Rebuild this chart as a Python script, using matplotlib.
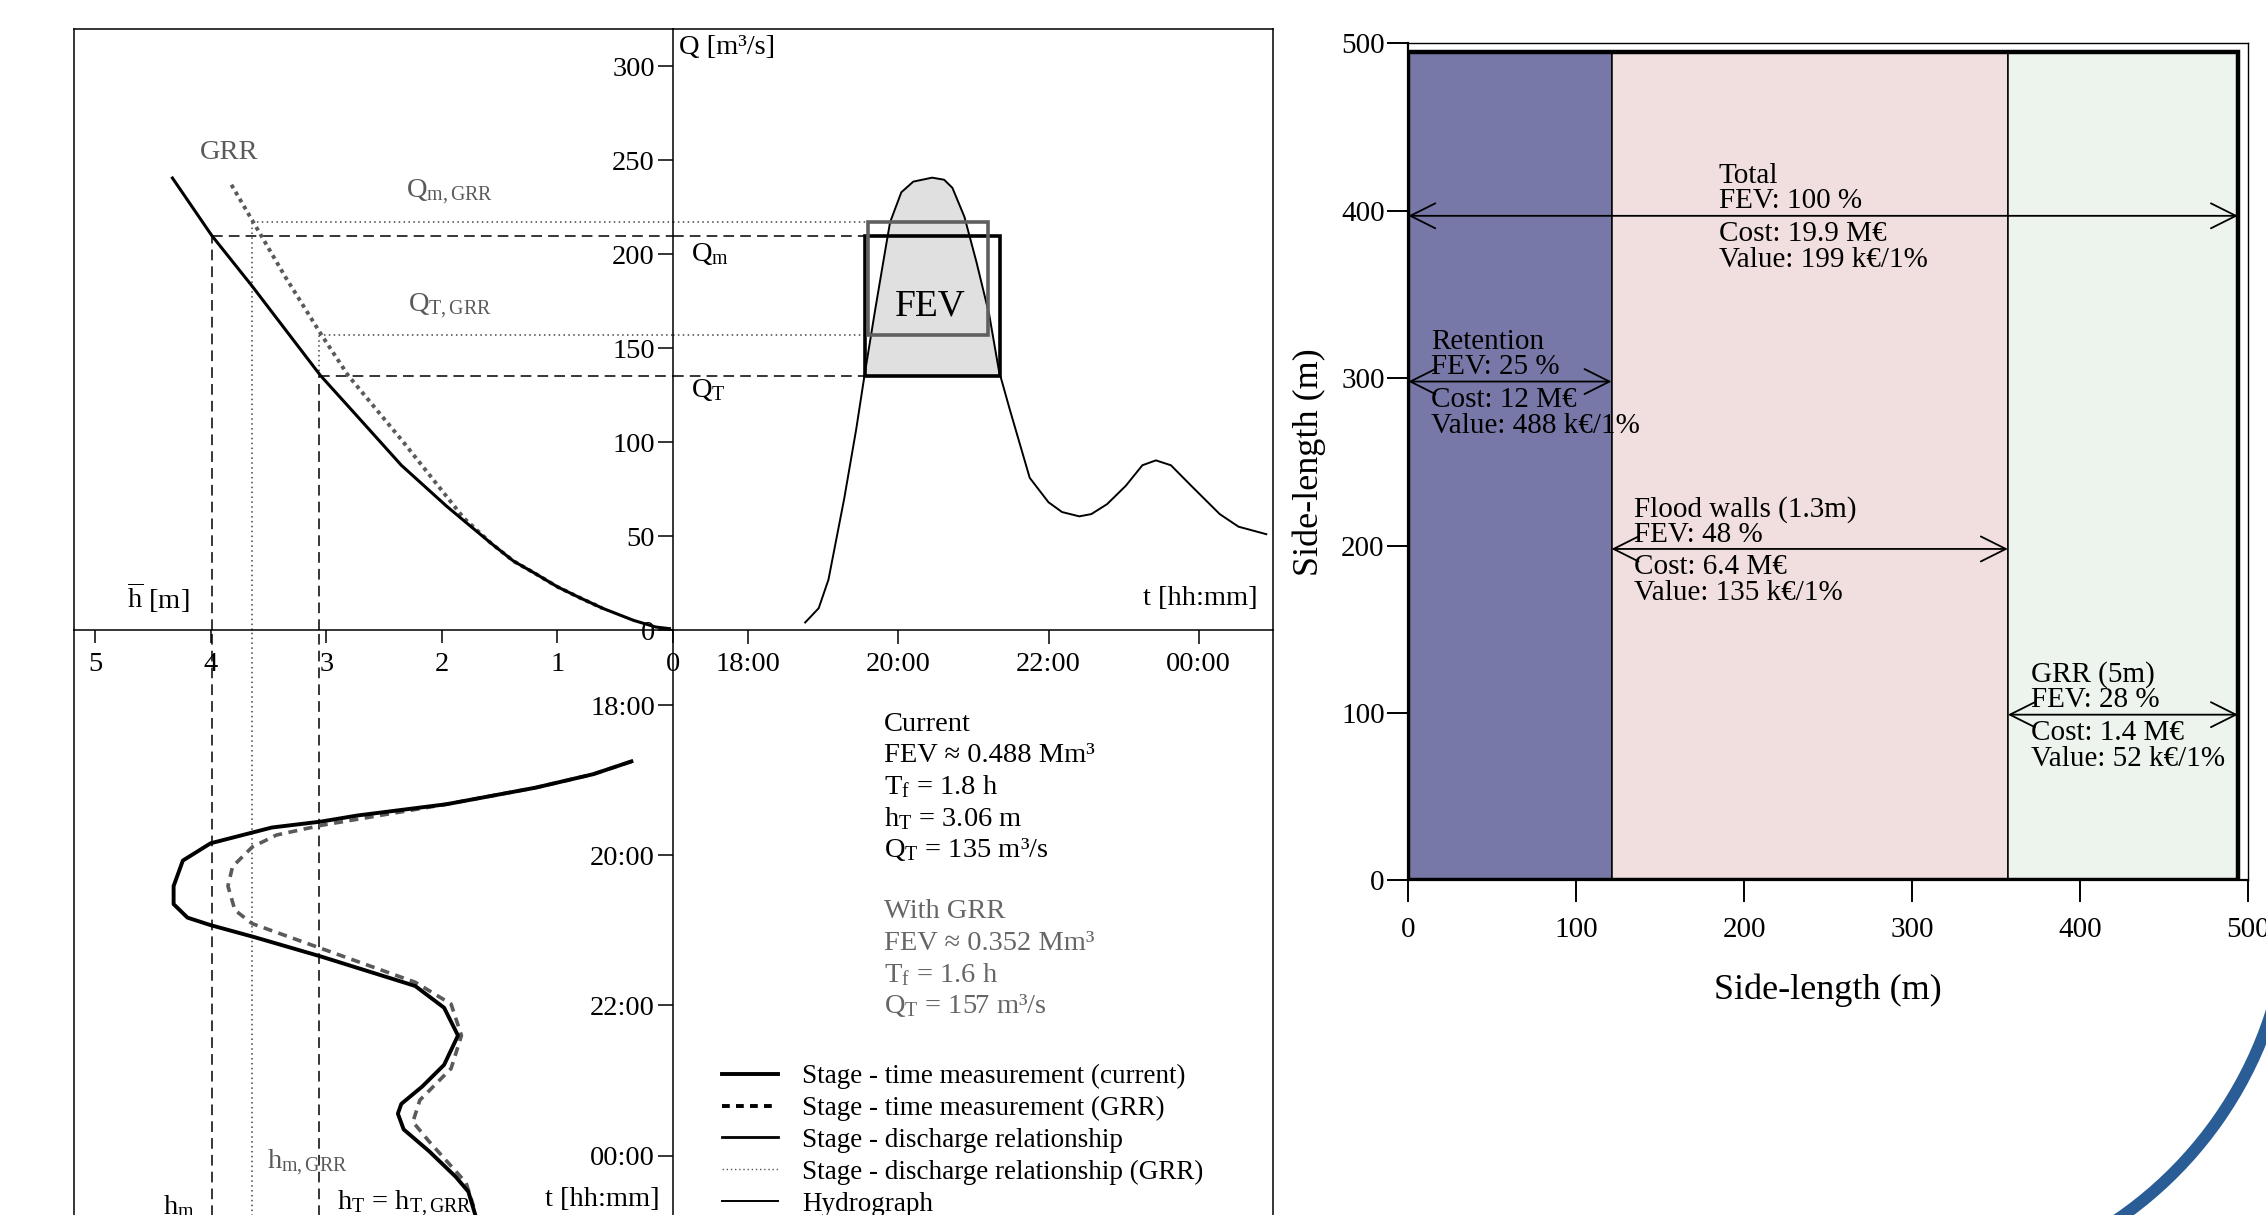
import numpy as np
import matplotlib.pyplot as plt
from matplotlib.patches import Rectangle, Arc
from matplotlib.lines import Line2D
from matplotlib.ticker import FuncFormatter

plt.rcParams['font.family'] = ['Liberation Serif', 'DejaVu Serif']
plt.rcParams['mathtext.fontset'] = 'custom'
plt.rcParams['mathtext.rm'] = 'Liberation Serif'
plt.rcParams['mathtext.it'] = 'Liberation Serif:italic'

# ── Stage - discharge relationship (h [m] -> Q [m3/s]) ──────────
rating_h = [4.33, 3.99, 3.64, 3.05, 2.73, 2.35, 1.96, 1.77, 1.57, 1.38, 1.19, 1.00,
            0.80, 0.61, 0.34, 0.22, 0.15, 0.03]
rating_q = [240.6, 210.0, 183.0, 135.5, 113.7, 87.7, 66.0, 56.2, 46.0, 36.7, 30.0, 23.0,
            17.0, 11.6, 5.1, 2.9, 1.6, 0.7]
rating_grr_h = [3.82, 3.62, 3.35, 3.04, 2.81, 2.34, 1.81, 1.57, 1.38, 1.19, 1.00, 0.80, 0.61]
rating_grr_q = [237.0, 216.0, 187.6, 157.0, 135.5, 100.6, 59.6, 46.0, 36.7, 30.0, 23.0, 17.0, 11.6]

# ── Hydrograph (t in hours after midnight, Q [m3/s]) ────────────
hydro_t = [18.76, 18.94, 19.07, 19.28, 19.44, 19.55, 19.69, 19.82, 19.89, 20.04, 20.20,
           20.45, 20.61, 20.72, 20.88, 21.04, 21.21, 21.34, 21.48, 21.75, 22.00, 22.18,
           22.41, 22.57, 22.78, 23.03, 23.25, 23.43, 23.63, 23.90, 24.28, 24.53, 24.90]
hydro_q = [4.0, 11.6, 26.8, 70.0, 107.0, 135.5, 170.0, 200.7, 217.0, 233.0, 238.7,
           240.8, 239.7, 235.4, 220.0, 196.0, 168.0, 138.0, 118.0, 81.0, 68.0, 62.8,
           60.5, 61.7, 67.0, 76.8, 87.7, 90.3, 87.7, 76.8, 61.7, 55.0, 51.0]

# ── Stage - time measurements (t in hours, h [m]) ───────────────
stage_t = [18.75, 18.92, 19.10, 19.32, 19.47, 19.55, 19.63, 19.84, 20.07, 20.41, 20.65,
           20.83, 20.93, 21.09, 21.35, 21.74, 22.03, 22.40, 22.79, 23.08, 23.31, 23.44,
           23.65, 23.94, 24.28, 24.48, 24.79]
stage_h = [0.36, 0.69, 1.19, 1.96, 2.73, 3.04, 3.47, 4.00, 4.24, 4.32, 4.32,
           4.20, 4.00, 3.62, 3.04, 2.23, 1.98, 1.86, 1.98, 2.17, 2.35, 2.38,
           2.33, 2.11, 1.88, 1.77, 1.71]
stage_grr_t = [18.75, 18.92, 19.10, 19.32, 19.52, 19.60, 19.73, 19.89, 20.15, 20.41, 20.73,
               20.91, 21.22, 21.69, 21.98, 22.40, 22.84, 23.26, 23.55, 23.81, 24.36, 24.75]
stage_grr_h = [0.36, 0.69, 1.19, 1.96, 2.73, 3.04, 3.43, 3.64, 3.81, 3.85, 3.79,
               3.64, 3.08, 2.23, 1.92, 1.83, 1.92, 2.19, 2.25, 2.11, 1.79, 1.71]

# ── Thresholds ──────────────────────────────────────────────────
q_m, q_t = 210, 135
q_m_grr, q_t_grr = 217, 157
h_m, h_t, h_m_grr = 3.99, 3.06, 3.64
t_start, t_f = 19.55, 1.8
t_start_grr, t_f_grr = 19.60, 1.6

current_lines = ['Current', 'FEV ≈ 0.488 Mm³', r'$\mathrm{T_f}$ = 1.8 h',
                 r'$\mathrm{h_T}$ = 3.06 m', r'$\mathrm{Q_T}$ = 135 m³/s']
grr_lines = ['With GRR', 'FEV ≈ 0.352 Mm³', r'$\mathrm{T_f}$ = 1.6 h',
             r'$\mathrm{Q_T}$ = 157 m³/s']

# ── Side-length chart ───────────────────────────────────────────
measures = ['Retention', 'Flood walls (1.3m)', 'GRR (5m)']
seg_edges = [0, 121, 357, 494]
seg_colors = ['#7878a8', '#f1dfdf', '#edf4ed']
fev_pct = [25, 48, 28]
cost_meur = [12, 6.4, 1.4]
value_keur = [488, 135, 52]
arrow_y = [298, 198, 99]
total_fev, total_cost, total_value, total_arrow_y = 100, 19.9, 199, 397

GREY = '#5a5a5a'
FS = 20.5

W, H = 2266, 1215
fig = plt.figure(figsize=(W / 100, H / 100), dpi=100)


def box(x0, y0, x1, y1):
    return [x0 / W, 1 - y1 / H, (x1 - x0) / W, (y1 - y0) / H]


# left figure geometry (pixels) and scales
L, R, T, CX, CY, B = 74, 1273, 29, 673, 630, 1300
PX_M, PX_Q, PX_H = 115.6, 1.8785, 75.1
h_left = (CX - L) / PX_M
q_top = (CY - T) / PX_Q
t_right = 17 + (R - CX) / PX_H
t_bottom = 17 + (B - CY) / PX_H

ax_ht = fig.add_axes(box(L, CY, CX, B))
ax_tx = fig.add_axes(box(CX, CY, R, B))
ax_hq = fig.add_axes(box(L, T, CX, CY))
ax_tq = fig.add_axes(box(CX, T, R, CY))

hhmm = FuncFormatter(lambda v, p: f'{int(round(v)) % 24:02d}:00')

for ax in (ax_hq, ax_tq, ax_ht, ax_tx):
    ax.patch.set_visible(False)
    for s in ax.spines.values():
        s.set_linewidth(1.1)
    ax.tick_params(labelsize=FS, width=1.1)

# ── top-left: stage-discharge ───────────────────────────────────
ax_hq.set_xlim(h_left, 0)
ax_hq.set_ylim(0, q_top)
ax_hq.spines['right'].set_visible(False)
ax_hq.tick_params(axis='y', left=False, labelleft=False)
ax_hq.tick_params(axis='x', direction='out', length=9, pad=7)
ax_hq.set_xticks([5, 4, 3, 2, 1, 0])
ax_hq.plot(rating_h, rating_q, color='black', lw=2.2, zorder=4)
ax_hq.plot(rating_grr_h, rating_grr_q, color=GREY, lw=2.8, ls=(0, (1, 1.1)), zorder=3)
dash = (0, (7, 4))
dot = (0, (1, 2.2))
ax_hq.plot([h_m, 0], [q_m, q_m], color='black', lw=1.1, ls=dash)
ax_hq.plot([h_m, h_m], [0, q_m], color='black', lw=1.1, ls=dash)
ax_hq.plot([h_t, 0], [q_t, q_t], color='black', lw=1.1, ls=dash)
ax_hq.plot([h_t, h_t], [0, q_t], color='black', lw=1.1, ls=dash)
ax_hq.plot([h_m_grr, 0], [q_m_grr, q_m_grr], color='#444444', lw=1.1, ls=dot)
ax_hq.plot([h_m_grr, h_m_grr], [0, q_m_grr], color='#444444', lw=1.1, ls=dot)
ax_hq.plot([h_t, 0], [q_t_grr, q_t_grr], color='#444444', lw=1.1, ls=dot)
ax_hq.plot([h_t, h_t], [q_t, q_t_grr], color='#444444', lw=1.1, ls=dot)
ax_hq.text(3.84, 254, 'GRR', color=GREY, fontsize=FS, ha='center', va='center')
ax_hq.text(1.93, 233, r'$\mathrm{Q_{m,GRR}}$', color=GREY, fontsize=FS, ha='center', va='center')
ax_hq.text(1.93, 172.5, r'$\mathrm{Q_{T,GRR}}$', color=GREY, fontsize=FS, ha='center', va='center')
ax_hq.text(4.72, 17, r'$\overline{\mathrm{h}}$ [m]', fontsize=FS, ha='left', va='center')

# ── top-right: hydrograph ───────────────────────────────────────
ax_tq.set_xlim(17, t_right)
ax_tq.set_ylim(0, q_top)
ax_tq.set_yticks(range(0, 301, 50))
ax_tq.set_xticks([18, 20, 22, 24])
ax_tq.xaxis.set_major_formatter(hhmm)
ax_tq.tick_params(axis='y', direction='out', length=11, pad=2)
ax_tq.tick_params(axis='x', direction='out', length=10, pad=6)
ax_tq.plot([17, t_start], [q_m, q_m], color='black', lw=1.1, ls=dash)
ax_tq.plot([17, t_start], [q_t, q_t], color='black', lw=1.1, ls=dash)
ax_tq.plot([17, t_start_grr], [q_m_grr, q_m_grr], color='#444444', lw=1.1, ls=dot)
ax_tq.plot([17, t_start_grr], [q_t_grr, q_t_grr], color='#444444', lw=1.1, ls=dot)
hq = np.array(hydro_q)
ax_tq.fill_between(hydro_t, hydro_q, q_t, where=hq >= q_t, interpolate=True,
                   color='#e0e0e0', lw=0, zorder=1)
ax_tq.plot(hydro_t, hydro_q, color='black', lw=1.4, zorder=3)
ax_tq.add_patch(Rectangle((t_start, q_t), t_f, q_m - q_t, fill=False,
                          ec='black', lw=2.6, zorder=4))
ax_tq.add_patch(Rectangle((t_start_grr, q_t_grr), t_f_grr, q_m_grr - q_t_grr, fill=False,
                          ec='#606060', lw=2.6, zorder=4))
ax_tq.text(20.43, 172.5, 'FEV', fontsize=27, ha='center', va='center', zorder=5)
ax_tq.text(17.08, 310, 'Q [m³/s]', fontsize=FS, ha='left', va='center')
ax_tq.text(17.24, 200, r'$\mathrm{Q_m}$', fontsize=FS, ha='left', va='center')
ax_tq.text(17.24, 127.8, r'$\mathrm{Q_T}$', fontsize=FS, ha='left', va='center')
ax_tq.text(24.78, 17, 't [hh:mm]', fontsize=FS, ha='right', va='center')

# ── bottom-left: stage - time ───────────────────────────────────
ax_ht.set_xlim(h_left, 0)
ax_ht.set_ylim(t_bottom, 17)
for s in ('top', 'right', 'bottom'):
    ax_ht.spines[s].set_visible(False)
ax_ht.set_xticks([])
ax_ht.set_yticks([])
ax_ht.axvline(h_m, color='black', lw=1.1, ls=dash)
ax_ht.axvline(h_t, color='black', lw=1.1, ls=dash)
ax_ht.axvline(h_m_grr, color='#444444', lw=1.1, ls=dot)
ax_ht.plot(stage_grr_h, stage_grr_t, color=GREY, lw=2.6, ls=(0, (2.5, 1.8)), zorder=3)
ax_ht.plot(stage_h, stage_t, color='black', lw=2.8, zorder=4)
ax_ht.text(3.51, 24.1, r'$\mathrm{h_{m,GRR}}$', color=GREY, fontsize=FS, ha='left', va='center')
ax_ht.text(4.41, 24.68, r'$\mathrm{h_m}$', fontsize=FS, ha='left', va='center')
ax_ht.text(2.91, 24.64, r'$\mathrm{h_T}$ = $\mathrm{h_{T,GRR}}$', fontsize=FS,
           ha='left', va='center')
ax_ht.text(0.12, 24.58, 't [hh:mm]', fontsize=FS, ha='right', va='center')

# ── bottom-right: time axis, summary text, legend ──────────────
ax_tx.set_ylim(t_bottom, 17)
ax_tx.set_xlim(0, 1)
for s in ('top', 'bottom'):
    ax_tx.spines[s].set_visible(False)
ax_tx.set_xticks([])
ax_tx.set_yticks([18, 20, 22, 24])
ax_tx.yaxis.set_major_formatter(hhmm)
ax_tx.tick_params(axis='y', direction='out', length=11, pad=2)

line_step = 22.5  # points between text lines
for i, txt in enumerate(current_lines):
    ax_tx.annotate(txt, xy=(0.352, 0.859), xycoords='axes fraction',
                   xytext=(0, -i * line_step), textcoords='offset points',
                   fontsize=FS, ha='left', va='center')
for i, txt in enumerate(grr_lines):
    ax_tx.annotate(txt, xy=(0.352, 0.859), xycoords='axes fraction',
                   xytext=(0, -(i + len(current_lines) + 1) * line_step),
                   textcoords='offset points',
                   fontsize=FS, ha='left', va='center', color='#666666')

handles = [
    Line2D([], [], color='black', lw=2.8),
    Line2D([], [], color='black', lw=2.8, ls=(0, (2, 1.6))),
    Line2D([], [], color='black', lw=2.0),
    Line2D([], [], color='#555555', lw=1.0, ls=(0, (1, 2))),
    Line2D([], [], color='black', lw=1.4),
]
labels = ['Stage - time measurement (current)', 'Stage - time measurement (GRR)',
          'Stage - discharge relationship', 'Stage - discharge relationship (GRR)',
          'Hydrograph']
ax_tx.legend(handles, labels, loc='upper left', bbox_to_anchor=(722 / W, 1 - 1064 / H),
             bbox_transform=fig.transFigure, frameon=False, fontsize=19.5,
             handlelength=2.05, handletextpad=0.9, labelspacing=0.25,
             borderpad=0, borderaxespad=0)

# ── right figure: side-length partition ─────────────────────────
ax = fig.add_axes(box(1408.3, 43.4, 2248, 880.4))
ax.set_xlim(0, 500)
ax.set_ylim(0, 500)
side = seg_edges[-1]
lefts = seg_edges[:-1]
widths = np.diff(seg_edges)
ax.bar(lefts, [side + 1] * len(lefts), width=widths, align='edge',
       color=seg_colors, edgecolor='black', lw=1.1, zorder=1)
ax.add_patch(Rectangle((0, 0), side, side + 1, fill=False, ec='black', lw=3.2, zorder=3))
for s in ('top', 'right'):
    ax.spines[s].set_linewidth(1.0)
for s in ('left', 'bottom'):
    ax.spines[s].set_linewidth(1.6)
ax.set_xticks(range(0, 501, 100))
ax.set_yticks(range(0, 501, 100))
ax.tick_params(axis='x', direction='out', length=16, width=1.4, pad=10, labelsize=21)
ax.tick_params(axis='y', direction='out', length=15, width=1.4, pad=2, labelsize=21)
ax.set_xlabel('Side-length (m)', fontsize=26)
ax.set_ylabel('Side-length (m)', fontsize=26)
ax.xaxis.set_label_coords(0.5, -0.111)
ax.yaxis.set_label_coords(-0.098, 0.5)

arrow_style = dict(arrowstyle='<->,head_length=0.9,head_width=0.45', mutation_scale=20,
                   lw=1.3, color='black', shrinkA=0, shrinkB=0)


def side_label(x0, x1, y, x_text, top, bottom):
    ax.annotate('', xy=(x1, y), xytext=(x0, y), arrowprops=arrow_style, zorder=4)
    ax.text(x_text, y + 0.8, top, fontsize=21, ha='left', va='bottom',
            linespacing=0.95, zorder=5)
    ax.text(x_text, y - 3.2, bottom, fontsize=21, ha='left', va='top',
            linespacing=1.0, zorder=5)


side_label(0, side, total_arrow_y, 185,
           f'Total\nFEV: {total_fev} %',
           f'Cost: {total_cost:g} M€\nValue: {total_value} k€/1%')
for i, name in enumerate(measures):
    side_label(seg_edges[i], seg_edges[i + 1], arrow_y[i], seg_edges[i] + 13.5,
               f'{name}\nFEV: {fev_pct[i]} %',
               f'Cost: {cost_meur[i]:g} M€\nValue: {value_keur[i]} k€/1%')

# ── slide decoration: blue arc at the lower right ───────────────
ax_bg = fig.add_axes([0, 0, 1, 1], zorder=-1)
ax_bg.set_xlim(0, W)
ax_bg.set_ylim(H, 0)
ax_bg.axis('off')
ax_bg.add_patch(Arc((1893, 892), 794, 794, theta1=5, theta2=65,
                    color='#2a5d95', lw=8.6))

fig.savefig('out.png', dpi=100)
